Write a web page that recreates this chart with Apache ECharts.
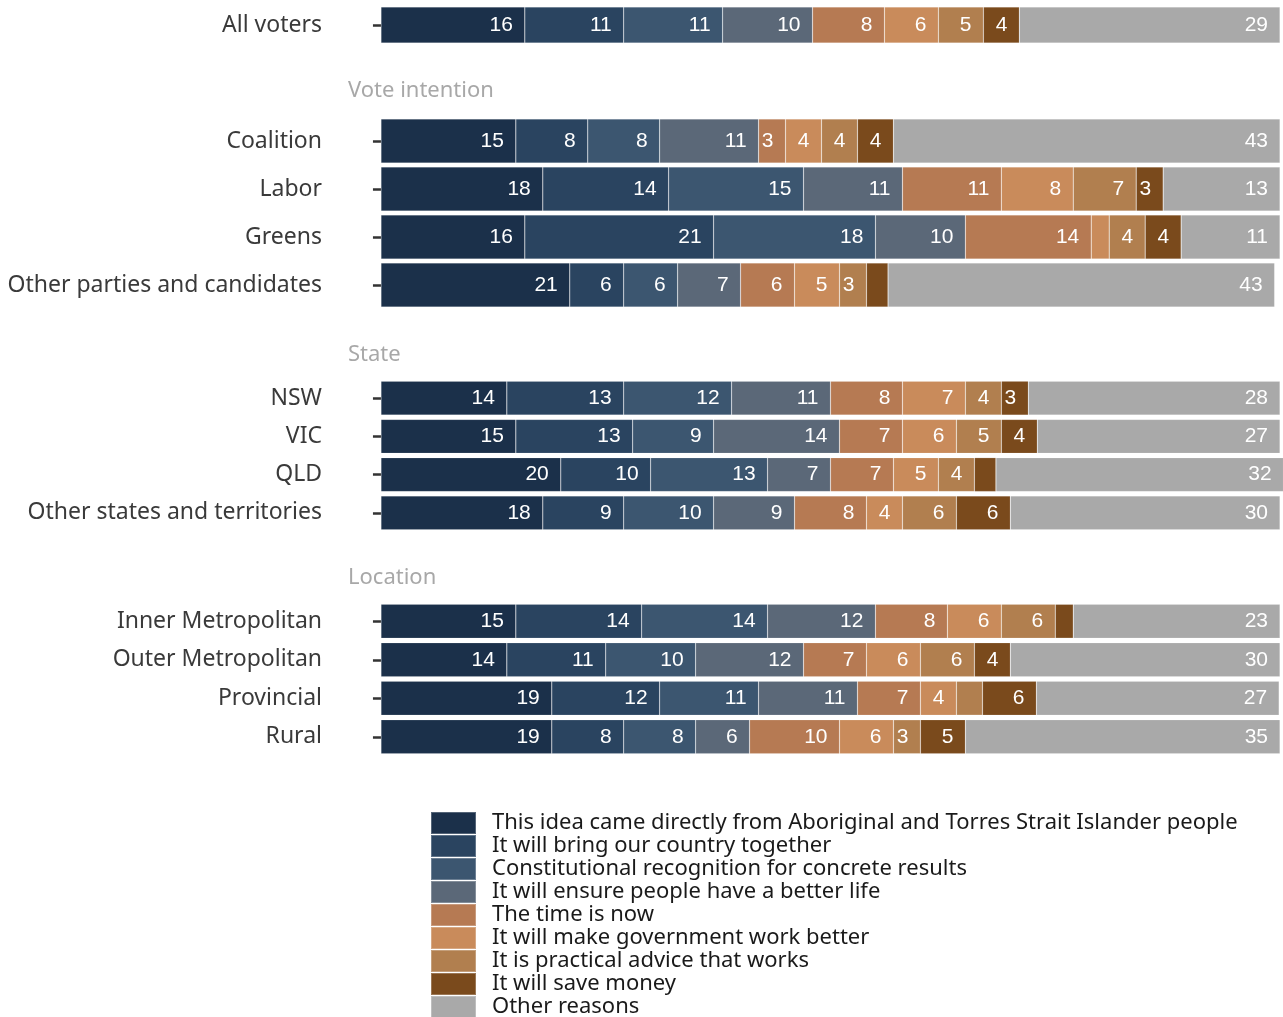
<!DOCTYPE html>
<html><head><meta charset="utf-8">
<script src="https://cdn.jsdelivr.net/npm/echarts@6/dist/echarts.min.js"></script>
<style>html,body{margin:0;padding:0;background:#fff}#c{width:1283px;height:1017px}</style>
</head><body><div id="c"></div>
<script>
const reasons = [
  'This idea came directly from Aboriginal and Torres Strait Islander people',
  'It will bring our country together',
  'Constitutional recognition for concrete results',
  'It will ensure people have a better life',
  'The time is now',
  'It will make government work better',
  'It is practical advice that works',
  'It will save money',
  'Other reasons'
];
const colors = ['#1b304a','#2a4460','#3c5670','#5b6878','#b67a53','#c98b5b','#b17f4f','#7a4a1c','#a9a9a9'];

const groupTitles = ['', 'Vote intention', 'State', 'Location'];
const catsAll = ['All voters'];
const catsVote = ['Coalition', 'Labor', 'Greens', 'Other parties and candidates'];
const catsState = ['NSW', 'VIC', 'QLD', 'Other states and territories'];
const catsLoc = ['Inner Metropolitan', 'Outer Metropolitan', 'Provincial', 'Rural'];

const allVoters   = [16, 11, 11, 10, 8, 6, 5, 4, 29];
const coalition   = [15, 8, 8, 11, 3, 4, 4, 4, 43];
const labor       = [18, 14, 15, 11, 11, 8, 7, 3, 13];
const greens      = [16, 21, 18, 10, 14, 2, 4, 4, 11];
const otherParties= [21, 6, 6, 7, 6, 5, 3, 2.4, 43];
const nsw         = [14, 13, 12, 11, 8, 7, 4, 3, 28];
const vic         = [15, 13, 9, 14, 7, 6, 5, 4, 27];
const qld         = [20, 10, 13, 7, 7, 5, 4, 2.4, 32];
const otherStates = [18, 9, 10, 9, 8, 4, 6, 6, 30];
const innerMetro  = [15, 14, 14, 12, 8, 6, 6, 2, 23];
const outerMetro  = [14, 11, 10, 12, 7, 6, 6, 4, 30];
const provincial  = [19, 12, 11, 11, 7, 4, 2.9, 6, 27];
const rural       = [19, 8, 8, 6, 10, 6, 3, 5, 35];

const groups = [
  {cats: catsAll, rows: [allVoters]},
  {cats: catsVote, rows: [coalition, labor, greens, otherParties]},
  {cats: catsState, rows: [nsw, vic, qld, otherStates]},
  {cats: catsLoc, rows: [innerMetro, outerMetro, provincial, rural]}
];
// layout (pixels)
const layout = [
  {top: 5, height: 40, bar: 36},
  {top: 117, height: 192, bar: 44},
  {top: 379, height: 153, bar: 34},
  {top: 602, height: 154, bar: 34}
];
const titleY = [0, 88, 352, 575];

const grids = [], xAxes = [], yAxes = [], series = [];
groups.forEach((g, gi) => {
  const L = layout[gi];
  grids.push({left: 336, width: 989, top: L.top, height: L.height, outerBoundsMode: 'none', containLabel: false});
  xAxes.push({type: 'value', gridIndex: gi, min: -5, max: 105, show: false});
  yAxes.push({
    type: 'category', gridIndex: gi, data: g.cats, inverse: true,
    axisLine: {show: false},
    axisTick: {show: true, length: 8, alignWithLabel: true, lineStyle: {color: '#333', width: 2.5}},
    axisLabel: {margin: 14, fontFamily: 'Noto Sans', fontSize: 23, color: '#3a3a3a'}
  });
  reasons.forEach((r, si) => {
    series.push({
      name: r, type: 'bar', stack: 'g' + gi, xAxisIndex: gi, yAxisIndex: gi,
      barWidth: L.bar,
      itemStyle: {color: colors[si], borderColor: 'rgba(255,255,255,0.25)', borderWidth: 0.6},
      label: {
        show: true, position: 'insideRight', distance: 12,
        color: '#fff', fontFamily: 'Liberation Sans', fontSize: 21,
        formatter: p => p.value >= 2.95 ? String(Math.round(p.value)) : ''
      },
      emphasis: {disabled: true},
      data: g.rows.map(row => row[si])
    });
  });
});

const graphics = groupTitles.map((t, i) => t ? {
  type: 'text', left: 348, top: titleY[i] - 8,
  style: {text: t, fontFamily: 'Noto Sans', fontSize: 22, fill: '#a8a8a8', verticalAlign: 'middle'}
} : null).filter(Boolean);

const chart = echarts.init(document.getElementById('c'), null, {renderer: 'canvas'});
chart.setOption({
  animation: false,
  grid: grids, xAxis: xAxes, yAxis: yAxes, series: series,
  graphic: graphics,
  legend: {
    data: reasons, orient: 'vertical', left: 430, top: 811, height: 260, padding: 0,
    icon: 'rect', itemWidth: 45, itemHeight: 22, itemGap: -1,
    selectedMode: false,
    textStyle: {fontFamily: 'Noto Sans', fontSize: 22, color: '#1a1a1a', lineHeight: 20, padding: [0, 0, 0, 11]}
  }
});
</script></body></html>
